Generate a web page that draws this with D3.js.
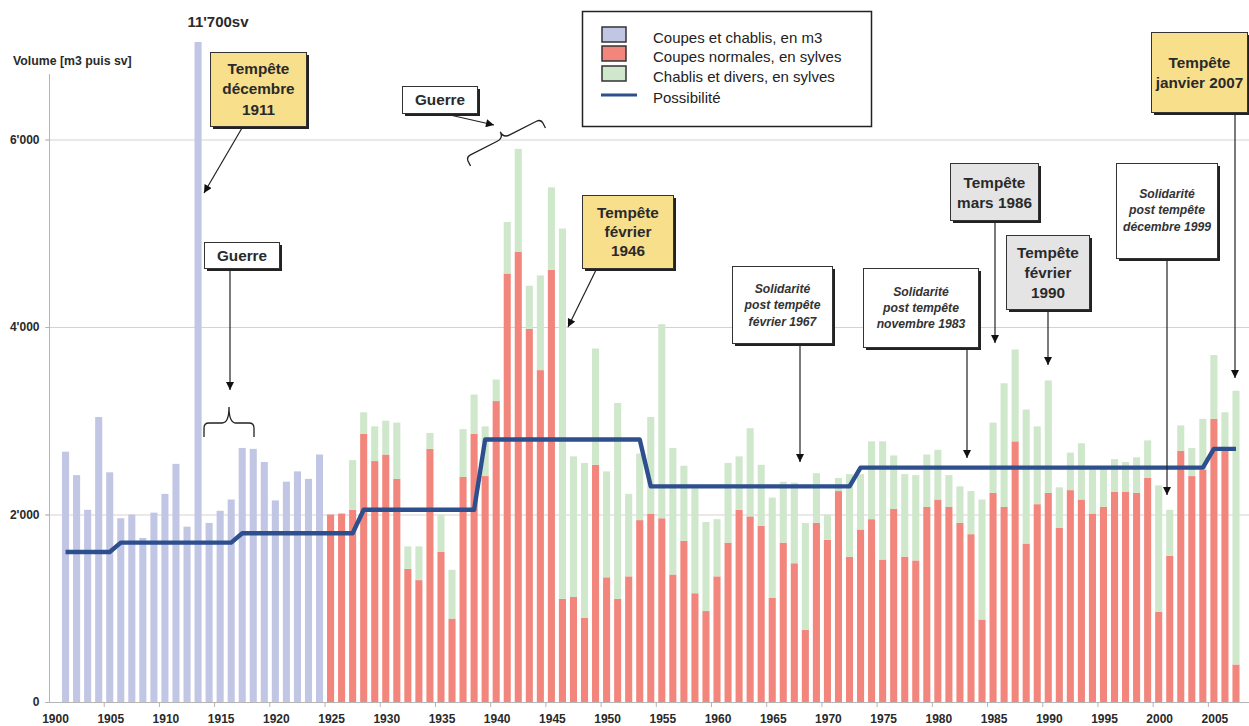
<!DOCTYPE html>
<html>
<head>
<meta charset="utf-8">
<script src="https://cdn.jsdelivr.net/npm/d3@7"></script>
<style>
  body { margin: 0; background: #fff; }
  svg { display: block; font-family: "Liberation Sans", Arial, sans-serif; }
</style>
</head>
<body>
<div id="chart"></div>
<script>
// ---- Data ----
const years = d3.range(1900, 2008);

// Coupes et chablis, en m3 : 1900-1924 (1900 sans valeur)
const coupesM3 = [null, 2670, 2420, 2050, 3040, 2450, 1960, 2000, 1750, 2020,
  2220, 2540, 1870, 11700, 1910, 2040, 2160, 2710, 2700, 2560,
  2150, 2350, 2460, 2380, 2640];

// Coupes normales, en sylves : 1925-2007
const coupesNormales = [2000, 2010, 2050, 2860, 2570, 2640, 2380, 1420, 1300, 2700,
  1600, 890, 2400, 2860, 2410, 3210, 4570, 4800, 3980, 3540,
  4610, 1100, 1120, 900, 2530, 1330, 1100, 1340, 1940, 2010,
  1960, 1360, 1720, 1160, 970, 1340, 1700, 2050, 1980, 1880,
  1110, 1700, 1480, 770, 1910, 1730, 2250, 1550, 1840, 1950,
  1520, 2060, 1550, 1510, 2080, 2160, 2080, 1910, 1790, 880,
  2230, 2080, 2780, 1690, 2110, 2230, 1860, 2260, 2160, 2010,
  2080, 2240, 2240, 2230, 2390, 960, 1560, 2680, 2410, 2480,
  3020, 2700, 400];

// Chablis et divers, en sylves : 1925-2007
const chablisDivers = [0, 0, 530, 230, 370, 360, 600, 240, 360, 170,
  400, 520, 510, 420, 530, 230, 550, 1100, 460, 1010,
  880, 3950, 1500, 1650, 1240, 1130, 2090, 880, 710, 1030,
  2070, 1350, 800, 1120, 950, 610, 850, 570, 940, 650,
  1070, 650, 860, 1140, 530, 270, 140, 880, 590, 830,
  1260, 570, 880, 910, 560, 530, 340, 390, 460, 1280,
  750, 1320, 980, 1430, 830, 1200, 430, 400, 600, 470,
  420, 350, 320, 380, 400, 1350, 490, 270, 300, 540,
  680, 390, 2920];

// Possibilité : premiere annee de chaque palier et niveau
const possDebut = [1901, 1906, 1917, 1928, 1939, 1954, 1973, 2005];
const possNiveau = [1600, 1700, 1800, 2050, 2800, 2300, 2500, 2700];

const yTicks = [0, 2000, 4000, 6000];
const xLabelYears = years.filter(y => y % 5 === 0);

const legendItems = ["Coupes et chablis, en m3", "Coupes normales, en sylves",
  "Chablis et divers, en sylves", "Possibilité"];

// ---- Table for the stack ----
const rows = years.map((yr, i) => ({
  year: yr,
  m3: yr < 1925 ? (coupesM3[i] || 0) : 0,
  normales: yr >= 1925 ? coupesNormales[yr - 1925] : 0,
  chablis: yr >= 1925 ? chablisDivers[yr - 1925] : 0
}));

const possRows = years.filter(yr => yr >= 1901).map(yr => {
  const k = d3.bisectRight(possDebut, yr) - 1;
  return { year: yr, v: possNiveau[k] };
});

// ---- Setup ----
const W = 1249, H = 726;
const svg = d3.select("#chart").append("svg")
  .attr("width", W)
  .attr("height", H);

svg.append("rect").attr("width", W).attr("height", H).attr("fill", "#fff");

const x = d3.scaleBand()
  .domain(years)
  .range([49, 1241.5])
  .paddingInner(0.36)
  .paddingOuter(0.18);

const y = d3.scaleLinear()
  .domain([0, 7040])
  .range([702, 42]);

const fmt = d3.formatLocale({ decimal: ".", thousands: "'", grouping: [3], currency: ["", ""] }).format(",");

const colors = { m3: "#c2c6e5", normales: "#f2857c", chablis: "#cfe7cb" };

// Gridlines
svg.append("g")
  .selectAll("line")
  .data(yTicks.slice(1))
  .join("line")
  .attr("x1", 45).attr("x2", W)
  .attr("y1", d => y(d) + 0.5).attr("y2", d => y(d) + 0.5)
  .attr("stroke", "#d9d1d1")
  .attr("stroke-width", 1);

// Bars
const stack = d3.stack().keys(["m3", "normales", "chablis"]);
const series = stack(rows);

svg.append("g")
  .selectAll("g")
  .data(series)
  .join("g")
  .attr("fill", s => colors[s.key])
  .selectAll("rect")
  .data(s => s.filter(d => d[1] > d[0]))
  .join("rect")
  .attr("x", d => x(d.data.year))
  .attr("width", x.bandwidth())
  .attr("y", d => Math.max(y(d[1]), y(7040)))
  .attr("height", d => y(d[0]) - Math.max(y(d[1]), y(7040)));

// Possibilité line
svg.append("path")
  .datum(possRows)
  .attr("fill", "none")
  .attr("stroke", "#2d4f8e")
  .attr("stroke-width", 4.4)
  .attr("stroke-linejoin", "round")
  .attr("d", d3.line()
    .x(d => x(d.year) + x.bandwidth() / 2)
    .y(d => y(d.v)));

// Axes
svg.append("line")
  .attr("x1", 49.5).attr("x2", 49.5).attr("y1", 74).attr("y2", 702)
  .attr("stroke", "#b5b5b5");
svg.append("line")
  .attr("x1", 45).attr("x2", W).attr("y1", 702.5).attr("y2", 702.5)
  .attr("stroke", "#b5b5b5");

const yAxis = svg.append("g")
  .attr("transform", "translate(49.5,0)")
  .call(d3.axisLeft(y).tickValues(yTicks).tickSize(4).tickPadding(6).tickFormat(fmt));
yAxis.select(".domain").remove();
yAxis.selectAll("line").attr("stroke", "#b5b5b5");
yAxis.selectAll("text")
  .attr("font-size", 12).attr("font-weight", "bold").attr("fill", "#2a2a2a")
  .attr("font-family", "Liberation Sans, Arial, sans-serif");

const xAxis = svg.append("g")
  .attr("transform", "translate(1,702)")
  .call(d3.axisBottom(x).tickValues(xLabelYears).tickSize(0).tickPadding(12.5));
xAxis.select(".domain").remove();
xAxis.selectAll("text")
  .attr("font-size", 12).attr("font-weight", "bold").attr("fill", "#2a2a2a")
  .attr("font-family", "Liberation Sans, Arial, sans-serif");

// boundary ticks every 5 years
const gap = x.step() - x.bandwidth();
svg.append("g")
  .selectAll("line")
  .data(xLabelYears.slice(1))
  .join("line")
  .attr("x1", d => x(d) - gap / 2).attr("x2", d => x(d) - gap / 2)
  .attr("y1", 702).attr("y2", 707)
  .attr("stroke", "#b5b5b5");

// Axis title and overflow label
svg.append("text")
  .attr("x", 13).attr("y", 65)
  .attr("font-size", 12.3).attr("font-weight", "bold").attr("fill", "#2a2a2a")
  .text("Volume [m3 puis sv]");

svg.append("text")
  .attr("x", 218).attr("y", 27)
  .attr("text-anchor", "middle")
  .attr("font-size", 15).attr("font-weight", "bold").attr("fill", "#2a2a2a")
  .text("11'700sv");

// ---- Legend ----
const leg = svg.append("g");
leg.append("rect")
  .attr("x", 582.5).attr("y", 11.5).attr("width", 289).attr("height", 115)
  .attr("fill", "#fff").attr("stroke", "#222").attr("stroke-width", 1.5);
const swatchY = [27, 46, 66];
["m3", "normales", "chablis"].forEach((k, i) => {
  leg.append("rect")
    .attr("x", 602).attr("y", swatchY[i]).attr("width", 24).attr("height", 15)
    .attr("fill", colors[k]).attr("stroke", "#333").attr("stroke-width", 1.5);
});
leg.append("line")
  .attr("x1", 601).attr("x2", 637).attr("y1", 95).attr("y2", 95)
  .attr("stroke", "#2d4f8e").attr("stroke-width", 3);
const legBase = [43, 62, 82, 103];
legendItems.forEach((t, i) => {
  leg.append("text")
    .attr("x", 653).attr("y", legBase[i])
    .attr("font-size", 15).attr("fill", "#222")
    .text(t);
});

// ---- Annotations ----
const defs = svg.append("defs");
defs.append("marker")
  .attr("id", "arr")
  .attr("viewBox", "0 0 10 10")
  .attr("refX", 10).attr("refY", 5)
  .attr("markerWidth", 9).attr("markerHeight", 8)
  .attr("markerUnits", "userSpaceOnUse")
  .attr("orient", "auto")
  .append("path").attr("d", "M0,0L10,5L0,10z").attr("fill", "#111");

const yellow = "#f8df8c", grey = "#e4e4e4", white = "#fff";
const notes = [
  { lines: ["Tempête", "décembre", "1911"], x: 210, y: 52, w: 96, h: 74, fill: yellow, it: false, b0: 73.5, lh: 20.5 },
  { lines: ["Guerre"], x: 204, y: 242, w: 75, h: 26, fill: white, it: false, b0: 260.5, lh: 0 },
  { lines: ["Guerre"], x: 402, y: 86, w: 75, h: 27, fill: white, it: false, b0: 105, lh: 0 },
  { lines: ["Tempête", "février", "1946"], x: 582, y: 195, w: 91, h: 73, fill: yellow, it: false, b0: 218, lh: 19 },
  { lines: ["Solidarité", "post tempête", "février 1967"], x: 732, y: 266, w: 100, h: 77, fill: white, it: true, b0: 292.5, lh: 16.5 },
  { lines: ["Solidarité", "post tempête", "novembre 1983"], x: 863, y: 268, w: 115, h: 79, fill: white, it: true, b0: 296, lh: 16 },
  { lines: ["Tempête", "mars 1986"], x: 950, y: 163, w: 88, h: 57, fill: grey, it: false, b0: 187.5, lh: 20 },
  { lines: ["Tempête", "février", "1990"], x: 1006, y: 235, w: 83, h: 74, fill: grey, it: false, b0: 257.5, lh: 20 },
  { lines: ["Solidarité", "post tempête", "décembre 1999"], x: 1116, y: 163, w: 101, h: 95, fill: white, it: true, b0: 197.5, lh: 16.7 },
  { lines: ["Tempête", "janvier 2007"], x: 1151, y: 32, w: 96, h: 80, fill: yellow, it: false, b0: 67.5, lh: 20 }
];

const arrows = [
  [242, 128, 204, 193], [230, 268, 230, 390], [450, 115, 494, 125],
  [597, 268, 568, 327], [800, 343, 800, 462], [967, 347, 967, 458],
  [995, 220, 995, 343], [1048, 309, 1048, 365], [1167, 258, 1167, 495],
  [1235, 112, 1235, 378]
];

const ann = svg.append("g");
ann.selectAll("line")
  .data(arrows)
  .join("line")
  .attr("x1", d => d[0]).attr("y1", d => d[1])
  .attr("x2", d => d[2]).attr("y2", d => d[3])
  .attr("stroke", "#222").attr("stroke-width", 1.2)
  .attr("marker-end", "url(#arr)");

// curly braces
function bracePath(w, arm, cusp) {
  const h = w / 2, r = Math.min(5, arm);
  return `M${-h},0 L${-h},${-arm + r} Q${-h},${-arm} ${-h + r},${-arm}` +
    ` L${-r - 2},${-arm} Q0,${-arm} 0,${-cusp} Q0,${-arm} ${r + 2},${-arm}` +
    ` L${h - r},${-arm} Q${h},${-arm} ${h},${-arm + r} L${h},0`;
}
ann.append("path")
  .attr("d", bracePath(50, 14, 30))
  .attr("transform", "translate(229,437)")
  .attr("fill", "none").attr("stroke", "#222").attr("stroke-width", 1.3);
ann.append("path")
  .attr("d", bracePath(84, 10, 17))
  .attr("transform", "translate(508,147) rotate(-27)")
  .attr("fill", "none").attr("stroke", "#222").attr("stroke-width", 1.3);

const boxes = ann.selectAll("g.note")
  .data(notes)
  .join("g")
  .attr("class", "note");
boxes.append("rect")
  .attr("x", d => d.x + 3).attr("y", d => d.y + 3)
  .attr("width", d => d.w).attr("height", d => d.h)
  .attr("fill", "#222");
boxes.append("rect")
  .attr("x", d => d.x + 0.5).attr("y", d => d.y + 0.5)
  .attr("width", d => d.w).attr("height", d => d.h)
  .attr("fill", d => d.fill).attr("stroke", "#333").attr("stroke-width", 1);
boxes.each(function (d) {
  const g = d3.select(this);
  d.lines.forEach((t, i) => {
    g.append("text")
      .attr("x", d.x + d.w / 2 + 0.5)
      .attr("y", d.b0 + i * d.lh)
      .attr("text-anchor", "middle")
      .attr("font-weight", "bold")
      .attr("font-style", d.it ? "italic" : "normal")
      .attr("font-size", d.it ? 12.2 : 15.3)
      .attr("fill", d.it ? "#333" : "#2a2a2a")
      .text(t);
  });
});
</script>
</body>
</html>
